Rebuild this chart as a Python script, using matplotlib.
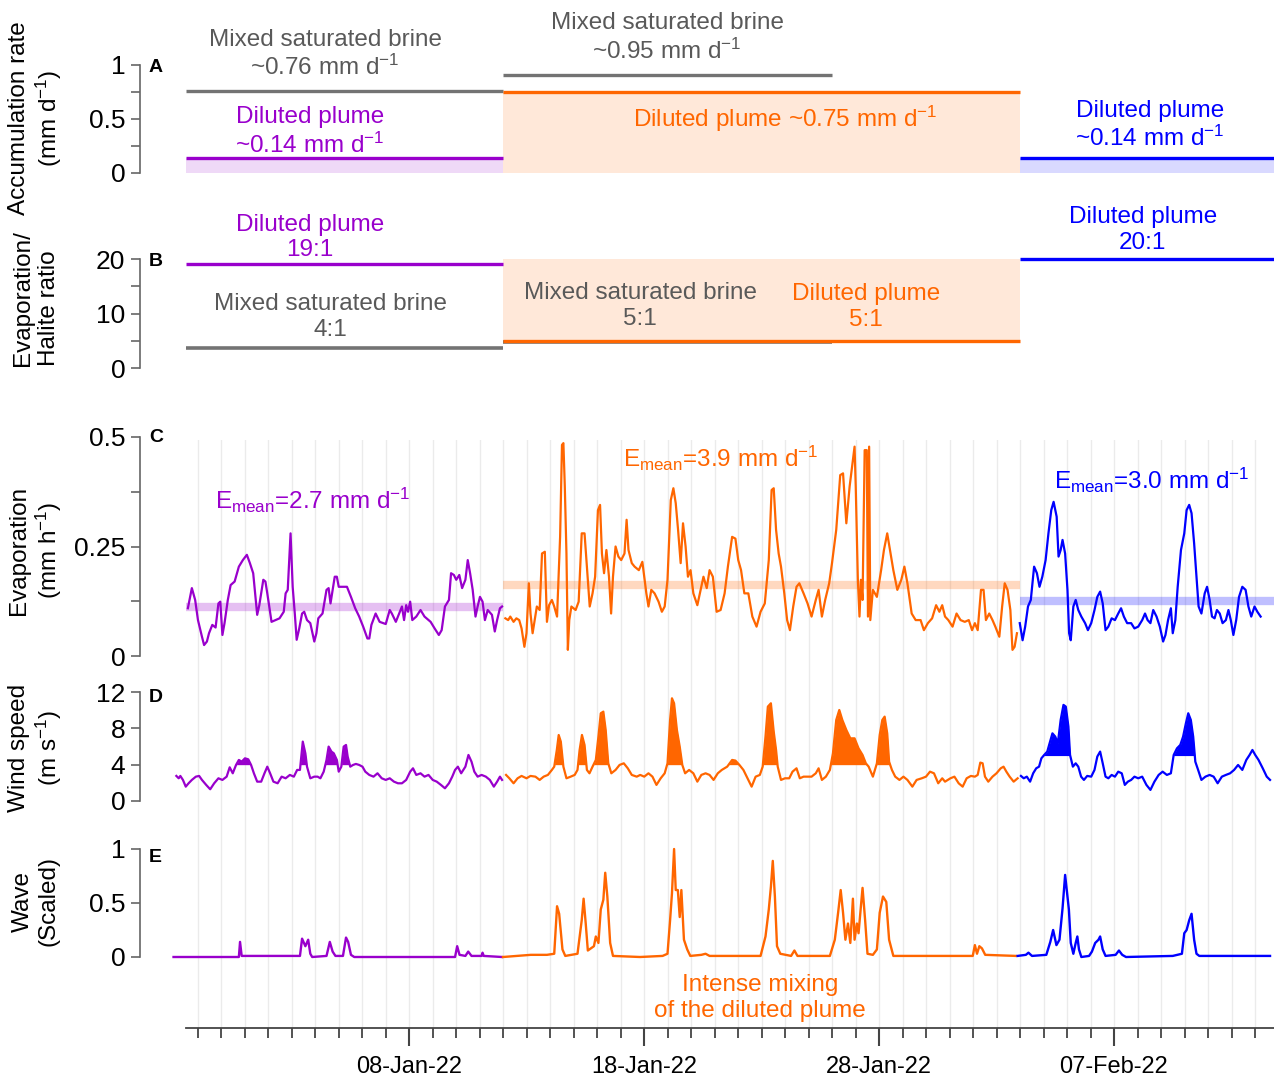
import numpy as np
import matplotlib
matplotlib.use('Agg')
import matplotlib.pyplot as plt
from matplotlib.ticker import FixedLocator
from datetime import datetime, timedelta

plt.rcParams['font.family'] = ['Liberation Sans', 'DejaVu Sans']
plt.rcParams['mathtext.fontset'] = 'custom'
plt.rcParams['mathtext.rm'] = 'Liberation Sans'
plt.rcParams['mathtext.it'] = 'Liberation Sans:italic'
plt.rcParams['mathtext.bf'] = 'Liberation Sans:bold'

# ---------------- data (time = days since 01-Jan-2022 00:00) ----------------
period_bounds = [-2.5, 11.0, 33.0, 43.85]      # purple / orange / blue plume periods
brine_periods = [(-2.5, 11.0), (11.0, 25.0)]   # mixed saturated brine periods

acc_plume = [0.14, 0.75, 0.14]   # accumulation rate, mm/d
acc_brine = [0.76, 0.91]
ratio_plume = [19, 5, 20]        # evaporation / halite ratio
ratio_brine = [4, 5]
ratio_fill_top = 20
evap_mean = [2.7, 3.9, 3.0]      # mm/d

date_ticks = [7, 17, 27, 37]

# evaporation (mm/h)
evap_purple = [(-2.41, 0.109), (-2.24, 0.155), (-2.10, 0.128), (-1.98, 0.082), (-1.81, 0.044),
    (-1.72, 0.025), (-1.60, 0.033), (-1.51, 0.052), (-1.37, 0.071), (-1.23, 0.065), (-1.11, 0.120),
    (-1.03, 0.124), (-0.94, 0.048), (-0.85, 0.075), (-0.71, 0.128), (-0.59, 0.162), (-0.42, 0.170),
    (-0.24, 0.204), (-0.07, 0.219), (0.10, 0.231), (0.23, 0.212), (0.37, 0.189), (0.54, 0.094),
    (0.63, 0.116), (0.80, 0.174), (0.89, 0.170), (0.97, 0.143), (1.15, 0.078), (1.32, 0.082),
    (1.49, 0.086), (1.67, 0.101), (1.75, 0.143), (1.84, 0.151), (1.96, 0.280), (2.05, 0.158),
    (2.14, 0.097), (2.22, 0.037), (2.33, 0.063), (2.45, 0.097), (2.54, 0.101), (2.66, 0.082),
    (2.80, 0.075), (2.97, 0.033), (3.06, 0.052), (3.14, 0.086), (3.32, 0.097), (3.49, 0.151),
    (3.58, 0.155), (3.66, 0.120), (3.84, 0.181), (3.93, 0.181), (4.01, 0.158), (4.19, 0.158),
    (4.36, 0.158), (4.53, 0.135), (4.71, 0.109), (4.88, 0.090), (5.05, 0.067), (5.23, 0.040),
    (5.31, 0.040), (5.40, 0.071), (5.58, 0.097), (5.75, 0.078), (6.01, 0.073), (6.18, 0.105),
    (6.27, 0.097), (6.44, 0.078), (6.70, 0.113), (6.79, 0.082), (6.88, 0.116), (6.96, 0.101),
    (7.05, 0.124), (7.14, 0.082), (7.31, 0.090), (7.49, 0.105), (7.66, 0.090), (7.92, 0.078),
    (8.09, 0.063), (8.27, 0.048), (8.39, 0.059), (8.53, 0.113), (8.70, 0.128), (8.79, 0.189),
    (8.91, 0.185), (9.01, 0.174), (9.14, 0.185), (9.26, 0.155), (9.40, 0.174), (9.50, 0.219),
    (9.60, 0.189), (9.71, 0.151), (9.83, 0.090), (9.92, 0.113), (10.02, 0.135), (10.13, 0.124),
    (10.23, 0.082), (10.35, 0.105), (10.53, 0.094), (10.65, 0.056), (10.75, 0.082), (10.87, 0.109),
    (10.96, 0.113)]
evap_orange = [(11.10, 0.086), (11.22, 0.082), (11.31, 0.090), (11.45, 0.078), (11.57, 0.086),
    (11.69, 0.082), (11.79, 0.063), (11.91, 0.021), (12.00, 0.052), (12.10, 0.166), (12.17, 0.097),
    (12.26, 0.052), (12.44, 0.113), (12.56, 0.105), (12.66, 0.234), (12.78, 0.238), (12.87, 0.078),
    (12.96, 0.116), (13.08, 0.128), (13.18, 0.113), (13.30, 0.090), (13.43, 0.272), (13.51, 0.482),
    (13.57, 0.486), (13.63, 0.387), (13.70, 0.234), (13.76, 0.014), (13.82, 0.082), (13.91, 0.113),
    (14.09, 0.105), (14.22, 0.124), (14.35, 0.280), (14.47, 0.280), (14.61, 0.174), (14.69, 0.113),
    (14.81, 0.143), (14.92, 0.181), (15.04, 0.333), (15.13, 0.345), (15.21, 0.234), (15.30, 0.189),
    (15.40, 0.242), (15.51, 0.181), (15.60, 0.097), (15.68, 0.181), (15.79, 0.250), (15.91, 0.227),
    (16.03, 0.219), (16.17, 0.234), (16.26, 0.311), (16.34, 0.242), (16.48, 0.212), (16.60, 0.204),
    (16.78, 0.196), (16.93, 0.215), (17.10, 0.143), (17.19, 0.113), (17.31, 0.151), (17.45, 0.143),
    (17.62, 0.124), (17.76, 0.101), (17.88, 0.113), (18.00, 0.174), (18.14, 0.356), (18.25, 0.383),
    (18.35, 0.349), (18.45, 0.288), (18.56, 0.212), (18.66, 0.303), (18.77, 0.250), (18.87, 0.181),
    (18.98, 0.196), (19.10, 0.143), (19.27, 0.116), (19.44, 0.158), (19.53, 0.181), (19.67, 0.155),
    (19.79, 0.196), (19.93, 0.181), (20.09, 0.101), (20.26, 0.105), (20.43, 0.143), (20.57, 0.204),
    (20.75, 0.272), (20.89, 0.268), (21.01, 0.219), (21.13, 0.196), (21.27, 0.143), (21.44, 0.143),
    (21.61, 0.090), (21.79, 0.067), (21.96, 0.101), (22.14, 0.120), (22.31, 0.219), (22.43, 0.379),
    (22.52, 0.383), (22.62, 0.288), (22.73, 0.234), (22.83, 0.204), (22.97, 0.143), (23.09, 0.082),
    (23.21, 0.059), (23.35, 0.113), (23.49, 0.158), (23.61, 0.166), (23.79, 0.143), (23.96, 0.120),
    (24.13, 0.090), (24.31, 0.128), (24.43, 0.151), (24.57, 0.090), (24.71, 0.128), (24.88, 0.166),
    (25.00, 0.212), (25.18, 0.288), (25.35, 0.413), (25.47, 0.417), (25.61, 0.303), (25.75, 0.387),
    (25.87, 0.440), (25.96, 0.478), (26.01, 0.387), (26.10, 0.174), (26.17, 0.090), (26.23, 0.174),
    (26.30, 0.128), (26.39, 0.470), (26.48, 0.470), (26.53, 0.090), (26.58, 0.478), (26.63, 0.082),
    (26.74, 0.151), (26.91, 0.135), (27.09, 0.196), (27.21, 0.242), (27.35, 0.280), (27.49, 0.234),
    (27.61, 0.196), (27.78, 0.151), (27.95, 0.174), (28.08, 0.204), (28.21, 0.166), (28.39, 0.097),
    (28.56, 0.082), (28.77, 0.082), (28.91, 0.059), (29.08, 0.075), (29.26, 0.086), (29.43, 0.116),
    (29.57, 0.101), (29.69, 0.116), (29.81, 0.090), (29.95, 0.082), (30.13, 0.067), (30.30, 0.097),
    (30.47, 0.082), (30.65, 0.078), (30.82, 0.082), (30.96, 0.059), (31.08, 0.075), (31.20, 0.059),
    (31.34, 0.151), (31.45, 0.151), (31.55, 0.082), (31.69, 0.097), (31.83, 0.082), (31.95, 0.067),
    (32.12, 0.044), (32.24, 0.113), (32.35, 0.166), (32.47, 0.151), (32.59, 0.105), (32.68, 0.014),
    (32.77, 0.021), (32.87, 0.052)]
evap_blue = [(32.99, 0.075), (33.11, 0.036), (33.22, 0.067), (33.34, 0.113), (33.46, 0.128),
    (33.60, 0.204), (33.72, 0.189), (33.83, 0.158), (33.95, 0.181), (34.09, 0.219), (34.21, 0.280),
    (34.33, 0.333), (34.43, 0.352), (34.56, 0.318), (34.64, 0.227), (34.73, 0.242), (34.81, 0.265),
    (34.92, 0.234), (35.02, 0.151), (35.09, 0.052), (35.16, 0.036), (35.27, 0.113), (35.37, 0.128),
    (35.48, 0.105), (35.61, 0.090), (35.77, 0.075), (35.89, 0.059), (36.03, 0.075), (36.17, 0.105),
    (36.29, 0.135), (36.41, 0.147), (36.52, 0.120), (36.64, 0.059), (36.76, 0.067), (36.90, 0.086),
    (37.04, 0.082), (37.18, 0.097), (37.30, 0.109), (37.42, 0.090), (37.56, 0.075), (37.73, 0.075),
    (37.87, 0.063), (38.03, 0.067), (38.20, 0.082), (38.32, 0.097), (38.43, 0.082), (38.55, 0.075),
    (38.67, 0.105), (38.81, 0.090), (38.95, 0.067), (39.09, 0.033), (39.19, 0.048), (39.30, 0.082),
    (39.42, 0.109), (39.50, 0.052), (39.61, 0.082), (39.71, 0.158), (39.85, 0.242), (39.99, 0.280),
    (40.09, 0.333), (40.20, 0.345), (40.30, 0.326), (40.41, 0.257), (40.51, 0.181), (40.60, 0.113),
    (40.72, 0.097), (40.86, 0.143), (40.96, 0.158), (41.07, 0.128), (41.17, 0.090), (41.28, 0.086),
    (41.38, 0.105), (41.50, 0.097), (41.62, 0.075), (41.76, 0.082), (41.87, 0.105), (41.97, 0.082),
    (42.08, 0.048), (42.20, 0.082), (42.32, 0.135), (42.46, 0.158), (42.60, 0.151), (42.72, 0.113),
    (42.84, 0.090), (42.98, 0.113), (43.10, 0.101), (43.24, 0.090)]

# wind speed (m/s)
wind_purple = [(-2.90, 2.76), (-2.80, 2.50), (-2.73, 2.76), (-2.62, 2.32), (-2.50, 1.58), (-2.38, 1.95),
    (-2.24, 2.32), (-2.07, 2.68), (-1.93, 2.76), (-1.81, 2.32), (-1.63, 1.77), (-1.46, 1.29),
    (-1.29, 1.95), (-1.11, 2.50), (-0.94, 2.32), (-0.76, 2.68), (-0.63, 3.71), (-0.50, 3.05),
    (-0.36, 3.97), (-0.24, 4.52), (-0.12, 4.33), (0.02, 4.70), (0.16, 4.59), (0.28, 3.97), (0.40, 3.05),
    (0.54, 2.13), (0.71, 2.13), (0.85, 3.05), (0.97, 3.78), (1.09, 3.05), (1.23, 2.13), (1.41, 1.95),
    (1.58, 2.68), (1.75, 2.50), (1.93, 2.87), (2.10, 2.68), (2.24, 3.42), (2.36, 3.42), (2.48, 6.54),
    (2.59, 5.25), (2.66, 3.78), (2.80, 2.50), (2.97, 2.68), (3.11, 2.68), (3.23, 2.50), (3.37, 3.23),
    (3.49, 4.52), (3.58, 5.99), (3.70, 5.44), (3.80, 5.25), (3.93, 4.52), (4.01, 3.23), (4.12, 3.78),
    (4.22, 5.99), (4.32, 6.17), (4.39, 4.89), (4.50, 3.78), (4.62, 3.97), (4.74, 4.08), (4.88, 3.97),
    (5.02, 3.78), (5.14, 3.23), (5.31, 2.87), (5.49, 2.68), (5.66, 3.05), (5.84, 2.50), (6.01, 2.32),
    (6.18, 2.50), (6.36, 2.13), (6.53, 1.95), (6.70, 1.95), (6.88, 2.32), (7.05, 3.23), (7.17, 3.60),
    (7.31, 2.87), (7.49, 3.05), (7.66, 2.68), (7.83, 2.87), (8.01, 2.32), (8.18, 2.13), (8.36, 1.77),
    (8.53, 1.40), (8.70, 1.95), (8.84, 2.68), (8.96, 3.42), (9.08, 3.78), (9.22, 3.05), (9.40, 3.78),
    (9.53, 5.07), (9.66, 4.33), (9.78, 3.23), (9.92, 2.68), (10.09, 2.87), (10.27, 2.68),
    (10.44, 2.32), (10.61, 1.58), (10.75, 2.13), (10.87, 2.68), (10.96, 2.32)]
wind_orange = [(11.13, 2.87), (11.27, 2.50), (11.45, 1.95), (11.62, 2.50), (11.79, 2.76), (12.00, 2.50),
    (12.17, 2.76), (12.38, 2.68), (12.56, 2.32), (12.73, 2.68), (12.91, 2.87), (13.08, 3.42),
    (13.18, 3.78), (13.29, 5.62), (13.37, 7.27), (13.46, 6.54), (13.57, 3.78), (13.70, 2.50),
    (13.88, 2.68), (14.05, 2.87), (14.17, 3.42), (14.26, 5.62), (14.36, 7.27), (14.47, 6.17),
    (14.57, 3.42), (14.68, 3.05), (14.81, 3.78), (14.95, 4.52), (15.06, 7.09), (15.16, 9.66),
    (15.27, 9.84), (15.37, 7.82), (15.48, 4.15), (15.61, 3.05), (15.79, 3.42), (15.96, 3.97),
    (16.14, 4.15), (16.31, 3.60), (16.48, 2.87), (16.69, 2.68), (16.84, 2.87), (17.01, 2.68),
    (17.19, 3.05), (17.36, 2.68), (17.53, 1.77), (17.71, 2.50), (17.88, 3.05), (18.00, 4.15),
    (18.11, 8.92), (18.19, 11.31), (18.28, 10.76), (18.40, 7.82), (18.52, 5.99), (18.63, 3.97),
    (18.75, 3.05), (18.92, 3.42), (19.10, 3.05), (19.27, 2.13), (19.44, 2.87), (19.62, 3.05),
    (19.79, 2.87), (19.96, 2.32), (20.14, 3.05), (20.31, 3.42), (20.54, 3.78), (20.75, 4.52),
    (20.89, 4.45), (21.06, 3.97), (21.23, 3.42), (21.44, 2.32), (21.58, 1.58), (21.75, 2.68),
    (21.93, 2.87), (22.05, 3.78), (22.17, 7.09), (22.27, 10.39), (22.40, 10.76), (22.52, 7.64),
    (22.62, 5.62), (22.69, 3.78), (22.83, 2.32), (23.00, 2.50), (23.18, 2.50), (23.32, 3.23),
    (23.49, 3.60), (23.63, 2.50), (23.79, 2.68), (23.96, 2.68), (24.13, 2.68), (24.31, 3.05),
    (24.43, 3.60), (24.57, 2.32), (24.74, 2.68), (24.91, 3.42), (25.04, 5.25), (25.18, 8.92),
    (25.31, 10.02), (25.44, 8.92), (25.61, 7.82), (25.78, 6.90), (25.96, 6.90), (26.13, 5.80),
    (26.30, 5.07), (26.44, 4.15), (26.56, 3.78), (26.74, 2.68), (26.91, 4.15), (27.03, 7.27),
    (27.14, 8.92), (27.24, 9.29), (27.35, 7.45), (27.43, 4.33), (27.55, 3.42), (27.69, 2.68),
    (27.87, 2.32), (28.04, 2.68), (28.21, 2.32), (28.42, 1.58), (28.60, 2.32), (28.82, 2.50),
    (29.00, 2.68), (29.17, 3.23), (29.34, 3.05), (29.52, 1.95), (29.69, 2.50), (29.81, 2.13),
    (30.04, 2.50), (30.21, 2.68), (30.39, 1.95), (30.56, 1.58), (30.73, 2.50), (30.91, 2.76),
    (31.08, 2.68), (31.20, 2.87), (31.31, 4.23), (31.41, 4.15), (31.51, 2.68), (31.65, 2.13),
    (31.83, 2.68), (32.00, 3.05), (32.18, 3.60), (32.30, 3.78), (32.42, 3.23), (32.56, 2.68),
    (32.73, 2.13), (32.90, 2.50)]
wind_blue = [(33.04, 2.76), (33.16, 2.50), (33.29, 2.68), (33.43, 2.13), (33.56, 3.05), (33.69, 3.60),
    (33.81, 3.78), (33.91, 4.70), (34.03, 5.07), (34.16, 5.44), (34.26, 6.36), (34.38, 7.45),
    (34.50, 7.09), (34.61, 6.36), (34.73, 8.92), (34.85, 10.58), (34.95, 10.39), (35.06, 8.19),
    (35.13, 5.07), (35.25, 3.78), (35.37, 4.15), (35.48, 3.78), (35.60, 2.68), (35.72, 2.32),
    (35.86, 2.76), (36.03, 2.68), (36.17, 3.42), (36.29, 4.89), (36.41, 5.44), (36.52, 4.15),
    (36.64, 2.68), (36.76, 2.50), (36.90, 2.87), (37.04, 2.68), (37.18, 3.23), (37.33, 3.05),
    (37.46, 1.77), (37.59, 2.13), (37.73, 2.32), (37.87, 2.68), (38.03, 2.50), (38.20, 2.68),
    (38.38, 1.77), (38.55, 1.22), (38.72, 2.13), (38.90, 2.87), (39.07, 3.23), (39.25, 2.87),
    (39.42, 3.05), (39.54, 5.07), (39.68, 5.80), (39.82, 6.17), (39.94, 7.09), (40.06, 8.56),
    (40.16, 9.66), (40.27, 8.92), (40.37, 7.09), (40.46, 4.33), (40.58, 3.42), (40.72, 2.32),
    (40.89, 2.68), (41.07, 2.87), (41.24, 2.68), (41.41, 1.95), (41.59, 2.68), (41.76, 2.87),
    (41.94, 3.05), (42.11, 3.42), (42.28, 3.97), (42.46, 3.42), (42.63, 4.52), (42.77, 5.07),
    (42.89, 5.62), (43.01, 5.07), (43.15, 4.52), (43.33, 3.60), (43.50, 2.68), (43.64, 2.32)]
# high-wind events shaded above a threshold: (start, end, threshold)
wind_events = [(-0.5, 0.4, 4), (2.4, 2.7, 4), (3.4, 4.0, 4), (4.2, 4.5, 4),
               (13.2, 13.6, 4), (14.2, 14.6, 4), (15.0, 15.5, 4), (18.0, 18.7, 4),
               (20.6, 21.0, 4), (22.1, 22.7, 4), (25.0, 26.5, 4), (27.0, 27.5, 4),
               (33.9, 35.2, 5), (39.5, 40.5, 5)]

# wave (scaled)
wave_purple = [(-3.02, 0.0), (-0.24, 0.0), (-0.19, 0.14), (-0.12, 0.01), (2.36, 0.01), (2.45, 0.17),
    (2.59, 0.10), (2.71, 0.16), (2.80, 0.03), (2.88, 0.0), (3.49, 0.01), (3.63, 0.14), (3.75, 0.05),
    (3.87, 0.01), (4.19, 0.01), (4.32, 0.18), (4.41, 0.14), (4.53, 0.02), (4.67, 0.0), (8.96, 0.0),
    (9.05, 0.10), (9.15, 0.02), (9.40, 0.01), (9.52, 0.05), (9.66, 0.01), (10.09, 0.01), (10.13, 0.04),
    (10.18, 0.01), (10.96, 0.0)]
wave_orange = [(11.00, 0.0), (12.18, 0.02), (12.87, 0.02), (13.18, 0.03), (13.30, 0.47), (13.39, 0.40),
    (13.53, 0.07), (13.65, 0.01), (14.17, 0.03), (14.35, 0.34), (14.43, 0.54), (14.52, 0.31),
    (14.61, 0.06), (14.87, 0.10), (14.95, 0.19), (15.06, 0.13), (15.16, 0.44), (15.27, 0.53),
    (15.35, 0.78), (15.44, 0.56), (15.56, 0.13), (15.68, 0.01), (16.83, 0.0), (17.79, 0.01),
    (18.00, 0.03), (18.11, 0.34), (18.19, 0.59), (18.28, 1.00), (18.35, 0.62), (18.44, 0.62),
    (18.52, 0.37), (18.59, 0.62), (18.70, 0.16), (18.84, 0.07), (18.97, 0.01), (19.44, 0.02),
    (19.62, 0.03), (19.79, 0.01), (21.96, 0.01), (22.17, 0.19), (22.31, 0.44), (22.40, 0.65),
    (22.48, 0.89), (22.57, 0.56), (22.66, 0.10), (22.80, 0.03), (23.26, 0.01), (23.40, 0.06),
    (23.53, 0.01), (24.91, 0.01), (25.12, 0.16), (25.26, 0.41), (25.37, 0.62), (25.47, 0.41),
    (25.57, 0.16), (25.68, 0.31), (25.78, 0.13), (25.89, 0.54), (25.96, 0.16), (26.06, 0.31),
    (26.13, 0.22), (26.23, 0.47), (26.30, 0.64), (26.41, 0.34), (26.51, 0.03), (26.74, 0.02),
    (26.91, 0.07), (27.03, 0.41), (27.17, 0.56), (27.31, 0.51), (27.43, 0.16), (27.61, 0.01),
    (30.99, 0.01), (31.08, 0.11), (31.17, 0.03), (31.27, 0.10), (31.38, 0.08), (31.52, 0.02),
    (32.82, 0.01)]
wave_blue = [(32.90, 0.01), (33.25, 0.02), (33.36, 0.04), (33.51, 0.01), (34.12, 0.02), (34.29, 0.14),
    (34.41, 0.25), (34.55, 0.11), (34.68, 0.16), (34.81, 0.45), (34.92, 0.76), (34.99, 0.62),
    (35.08, 0.44), (35.16, 0.13), (35.27, 0.03), (35.37, 0.13), (35.44, 0.19), (35.51, 0.07),
    (35.61, 0.0), (35.94, 0.01), (36.06, 0.05), (36.20, 0.13), (36.34, 0.16), (36.41, 0.19),
    (36.52, 0.07), (36.64, 0.01), (37.07, 0.02), (37.21, 0.06), (37.35, 0.02), (37.51, 0.0),
    (39.50, 0.01), (39.89, 0.03), (39.99, 0.22), (40.09, 0.25), (40.20, 0.34), (40.30, 0.40),
    (40.41, 0.16), (40.51, 0.03), (40.63, 0.01), (43.64, 0.01)]

# ---------------- style ----------------
PURPLE = '#9900cc'
ORANGE = '#ff6600'
BLUE = '#0000ff'
GREY = '#737373'
TXT_GREY = '#595959'
AX_GREY = '#666666'
colors = [PURPLE, ORANGE, BLUE]

W, H = 1274, 1079
fig = plt.figure(figsize=(W / 100, H / 100), dpi=100)


def px2day(x):
    # pixel column -> day, only used for the axes layout
    return (x - 409) / 23.5 + 7


XLIM = (px2day(140), px2day(1274))

# background axes: daily grid lines + the date axis
axg = fig.add_axes([140 / W, 1 - 1028 / H, 1134 / W, (1028 - 440) / H])
axg.set_xlim(XLIM)
axg.set_ylim(0, 1)
for s in ['top', 'right', 'left']:
    axg.spines[s].set_visible(False)
axg.spines['bottom'].set_bounds(px2day(186), XLIM[1])
axg.spines['bottom'].set_color('#444444')
axg.spines['bottom'].set_linewidth(1.3)
axg.set_yticks([])
axg.xaxis.set_major_locator(FixedLocator(date_ticks))
axg.xaxis.set_minor_locator(FixedLocator(np.arange(-2, 44)))
axg.set_xticklabels([(datetime(2022, 1, 1) + timedelta(days=d)).strftime('%d-%b-%y')
                     for d in date_ticks])
axg.tick_params(axis='x', which='major', length=13, width=1.5, color='#444444',
                labelsize=17, pad=7)
axg.tick_params(axis='x', which='minor', length=7, width=1.3, color='#444444')
axg.grid(True, which='both', axis='x', color='#ebebeb', lw=1)


def panel(top_px, bot_px, vtop, vbot, pad=10):
    ax = fig.add_axes([140 / W, 1 - (bot_px + pad) / H, 1134 / W,
                       (bot_px - top_px + 2 * pad) / H])
    per_px = (vtop - vbot) / (bot_px - top_px)
    ax.set_ylim(vbot - pad * per_px, vtop + pad * per_px)
    ax.set_xlim(XLIM)
    ax.set_facecolor('none')
    for s in ['top', 'right', 'bottom']:
        ax.spines[s].set_visible(False)
    ax.spines['left'].set_bounds(vbot, vtop)
    ax.spines['left'].set_color(AX_GREY)
    ax.spines['left'].set_linewidth(1.2)
    ax.set_xticks([])
    ax.tick_params(axis='y', which='both', direction='out', length=6.5, width=1.2,
                   color=AX_GREY, labelsize=19, pad=4)
    return ax


def xy(series):
    arr = np.array(series)
    return arr[:, 0], arr[:, 1]


txt = dict(ha='center', va='center', fontsize=17.5, linespacing=1.2)

# ---- A: accumulation rate ----
axA = panel(65, 173, 1, 0)
axA.set_yticks([0, 0.5, 1])
axA.set_yticklabels(['0', '0.5', '1'])
axA.yaxis.set_minor_locator(FixedLocator([0.25, 0.75]))
for i in range(3):
    t0, t1 = period_bounds[i], period_bounds[i + 1]
    axA.fill_between([t0, t1], 0, acc_plume[i], color=colors[i], alpha=0.15, lw=0)
for (t0, t1), v in zip(brine_periods, acc_brine):
    axA.plot([t0, t1], [v, v], color=GREY, lw=2.4, solid_capstyle='butt')
for i in range(3):
    t0, t1 = period_bounds[i], period_bounds[i + 1]
    axA.plot([t0, t1], [acc_plume[i]] * 2, color=colors[i], lw=2.4,
             solid_capstyle='butt', clip_on=False)
axA.text(3.43, 1.10, 'Mixed saturated brine\n~0.76 mm d$^{-1}$', color=TXT_GREY, **txt)
axA.text(17.98, 1.25, 'Mixed saturated brine\n~0.95 mm d$^{-1}$', color=TXT_GREY, **txt)
axA.text(2.79, 0.38, 'Diluted plume\n~0.14 mm d$^{-1}$', color=PURPLE, **txt)
axA.text(23.0, 0.50, 'Diluted plume ~0.75 mm d$^{-1}$', color=ORANGE, **txt)
axA.text(38.53, 0.44, 'Diluted plume\n~0.14 mm d$^{-1}$', color=BLUE, **txt)

# ---- B: evaporation / halite ratio ----
axB = panel(259, 368, 20, 0)
axB.set_yticks([0, 10, 20])
axB.yaxis.set_minor_locator(FixedLocator([5, 15]))
axB.fill_between([period_bounds[1], period_bounds[2]], ratio_plume[1], ratio_fill_top,
                 color=ORANGE, alpha=0.15, lw=0)
for (t0, t1), v in zip(brine_periods, ratio_brine):
    axB.plot([t0, t1], [v - 0.25, v - 0.25], color=GREY, lw=2.6, solid_capstyle='butt')
for i in range(3):
    t0, t1 = period_bounds[i], period_bounds[i + 1]
    axB.plot([t0, t1], [ratio_plume[i]] * 2, color=colors[i], lw=2.4,
             solid_capstyle='butt', clip_on=False)
axB.text(2.79, 24.0, 'Diluted plume\n19:1', color=PURPLE, **txt)
axB.text(3.64, 9.36, 'Mixed saturated brine\n4:1', color=TXT_GREY, **txt)
axB.text(16.83, 11.4, 'Mixed saturated brine\n5:1', color=TXT_GREY, **txt)
axB.text(26.45, 11.2, 'Diluted plume\n5:1', color=ORANGE, **txt)
axB.text(38.23, 25.3, 'Diluted plume\n20:1', color=BLUE, **txt)

# ---- C: evaporation ----
axC = panel(437, 656, 0.5, 0)
axC.set_yticks([0, 0.25, 0.5])
axC.set_yticklabels(['0', '0.25', '0.5'])
axC.yaxis.set_minor_locator(FixedLocator([0.125, 0.375]))
for i, series in enumerate([evap_purple, evap_orange, evap_blue]):
    t0, t1 = period_bounds[i], period_bounds[i + 1]
    axC.plot([t0, t1], [evap_mean[i] / 24] * 2, color=colors[i], lw=6, alpha=0.25,
             solid_capstyle='butt')
    t, v = xy(series)
    axC.plot(t, v, color=colors[i], lw=1.6)
axC.text(2.91, 0.356, 'E$_{\\mathrm{mean}}$=2.7 mm d$^{-1}$', color=PURPLE, **txt)
axC.text(20.28, 0.452, 'E$_{\\mathrm{mean}}$=3.9 mm d$^{-1}$', color=ORANGE, **txt)
axC.text(38.62, 0.40, 'E$_{\\mathrm{mean}}$=3.0 mm d$^{-1}$', color=BLUE, **txt)

# ---- D: wind speed ----
axD = panel(692, 801, 12, 0)
axD.set_yticks([0, 4, 8, 12])
for i, series in enumerate([wind_purple, wind_orange, wind_blue]):
    t, v = xy(series)
    axD.plot(t, v, color=colors[i], lw=1.6)
    for e0, e1, thr in wind_events:
        if e0 >= t[0] and e1 <= t[-1] + 0.5:
            sel = (t >= e0 - 0.3) & (t <= e1 + 0.3)
            axD.fill_between(t[sel], v[sel], thr, where=(v[sel] > thr) & (t[sel] >= e0 - 0.15)
                             & (t[sel] <= e1 + 0.15), interpolate=True, color=colors[i], lw=0)

# ---- E: wave ----
axE = panel(849, 957, 1, 0)
axE.set_yticks([0, 0.5, 1])
axE.set_yticklabels(['0', '0.5', '1'])
for i, series in enumerate([wave_purple, wave_orange, wave_blue]):
    t, v = xy(series)
    axE.plot(t, v, color=colors[i], lw=1.7)
axE.text(21.94, -0.38, 'Intense mixing\nof the diluted plume', color=ORANGE, **txt)

# ---- panel letters and y labels ----
for letter, ypx in zip('ABCDE', [68, 262, 438, 697, 858]):
    fig.text(149 / W, 1 - ypx / H, letter, fontsize=14, fontweight='bold',
             ha='left', va='center')

ylabels = [('Accumulation rate\n(mm d$^{-1}$)', 118, 'center'),
           ('Evaporation/\nHalite ratio', 298, 'left'),
           ('Evaporation\n(mm h$^{-1}$)', 550, 'center'),
           ('Wind speed\n(m s$^{-1}$)', 748, 'center'),
           ('Wave\n(Scaled)', 901, 'center')]
for label, ypx, align in ylabels:
    fig.text(36 / W, 1 - ypx / H, label, rotation=90, fontsize=17.5, ha='center',
             va='center', multialignment=align, linespacing=1.2)

fig.savefig('out.png', dpi=100)
